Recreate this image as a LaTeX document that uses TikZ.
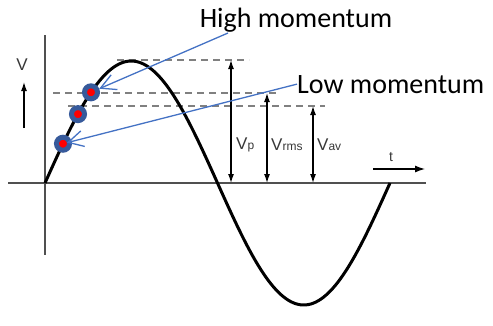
\documentclass[tikz,border=0pt]{standalone}
\usepackage{fontspec}
\setmainfont{Liberation Sans}
\newfontfamily\callfont{Carlito}
\usetikzlibrary{arrows.meta,positioning}
\definecolor{ptrblue}{RGB}{68,114,196}
\definecolor{ballblue}{RGB}{55,90,155}
\definecolor{axgray}{RGB}{80,80,80}
\definecolor{labgray}{RGB}{55,55,55}
\newcommand{\vsub}[1]{{\fontsize{12}{12}\selectfont #1}}

\begin{document}
\begin{tikzpicture}[x=1pt, y=-1pt,
    ax/.style={axgray, line width=2pt},
    wave/.style={black, line width=3pt, line join=round},
    lvl/.style={gray, line width=1.2pt, dash pattern=on 7pt off 5pt},
    dim/.style={<->, >={Latex[length=9pt,width=6pt]}, line width=1.2pt},
    ptr/.style={-{Straight Barb[length=15pt,width=16pt]}, ptrblue, line width=1.3pt},
    ball/.style={circle, draw=ballblue, line width=5pt, fill=red, minimum size=13pt, inner sep=0pt},
    lab/.style={anchor=west, inner sep=0pt, text=labgray, font=\fontsize{17}{17}\selectfont},
    big/.style={inner sep=0pt, font=\callfont\fontsize{28}{28}\selectfont}
]
    \useasboundingbox (0,0) rectangle (493,325);

    % axes
    \coordinate (hl) at (8,183);
    \coordinate (hr) at (426,183);
    \coordinate (vt) at (45,35);
    \coordinate (vb) at (45,255);
    \draw[ax] (hl) -- (hr);
    \draw[ax] (vt) -- (vb);

    % levels
    \coordinate (pk) at (231,60);
    \coordinate (rm) at (267,93);
    \coordinate (av) at (313,106);
    \draw[lvl] (117,60) -- (249,60);
    \draw[lvl] (53,93) -- (280,93);
    \draw[lvl] (68,106) -- (325,106);

    % sine wave
    \draw[wave] plot[domain=0:345, samples=140, smooth] ({45+\x},{183-122*sin(\x*1.043478)});

    % balls on the wave
    \node[ball] (b1) at (91,92.3) {};
    \node[ball] (b2) at (78,114.1) {};
    \node[ball] (b3) at (63,143.7) {};

    % Vp, Vrms, Vav
    \coordinate (pk0) at (231,183);
    \coordinate (rm0) at (267,183);
    \coordinate (av0) at (313,183);
    \draw[dim] (pk) -- (pk0);
    \draw[dim] (rm) -- (rm0);
    \draw[dim] (av) -- (av0);
    \node[lab] (vp) at (236,145) {V\vsub{p}};
    \node[lab] (vrms) at (271,145) {V\vsub{rms}};
    \node[lab] (vav) at (317,145) {V\vsub{av}};

    % axis names
    \node[lab, anchor=center] (vname) at (22,65) {V};
    \coordinate (vup0) at (24,128);
    \coordinate (vup1) at (24,82);
    \draw[->, >={Latex[length=9pt,width=6pt]}, line width=1.2pt] (vup0) -- (vup1);
    \node[lab, anchor=center, font=\fontsize{14}{14}\selectfont] (tname) at (391,157) {t};
    \coordinate (t0) at (373,169);
    \coordinate (t1) at (425,169);
    \draw[->, >={Latex[length=10pt,width=7pt]}, line width=1.2pt] (t0) -- (t1);

    % momentum pointers
    \node[big, anchor=base] (high) at (296,27) {High momentum};
    \node[big, anchor=base west] (low) at (297,93) {Low momentum};
    \coordinate (hs) at (228,33);
    \draw[ptr] (hs) -- (b1);
    \draw[ptr, shorten >=4pt] (low.west) -- (b3.center);
\end{tikzpicture}
\end{document}
